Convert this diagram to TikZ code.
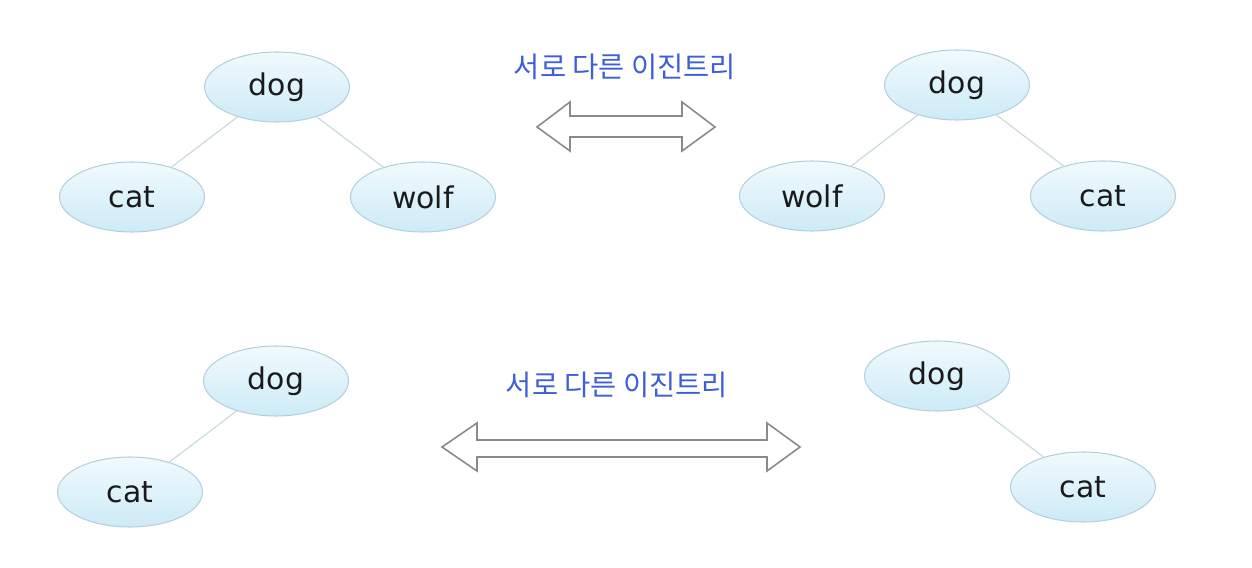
\documentclass[tikz,border=0pt]{standalone}
\usepackage{fontspec}
\setmainfont{DejaVu Sans}
\newfontfamily\krfont{Noto Sans CJK KR}
\usetikzlibrary{
  arrows.meta,
  calc,
  positioning,
  shapes.geometric
}
\definecolor{nodeTop}{HTML}{F0FAFE}
\definecolor{nodeBot}{HTML}{CDEBF6}
\definecolor{nodeRim}{HTML}{B5D0DC}
\definecolor{edgeGrey}{HTML}{C9DCDD}
\definecolor{labBlue}{HTML}{3F5FD8}
\definecolor{arrGrey}{HTML}{8A8A8A}
\definecolor{inkDark}{HTML}{1A1A1A}
\tikzset{
  word/.style={ellipse, draw=nodeRim, line width=0.6pt, top color=nodeTop,
    bottom color=nodeBot, minimum width=2.9cm, minimum height=1.4cm,
    inner sep=0pt, text=inkDark, font=\fontsize{17}{20}\selectfont},
  link/.style={draw=edgeGrey, line width=0.7pt},
  caption/.style={text=labBlue, font=\krfont\fontsize{16.2}{19}\selectfont},
  twoway/.style={draw=arrGrey, line width=0.9pt, fill=white, line join=miter}
}

\begin{document}
\begin{tikzpicture}[x=0.02cm, y=-0.02cm]
  \useasboundingbox (0,0) rectangle (1252,568);
  % upper pair
  \node[word] (ad) at (277,87)  {dog};
  \node[word] (ac) at (132,197) {cat};
  \node[word] (aw) at (423,197) {wolf};
  \node[word] (bd) at (957,85)  {dog};
  \node[word] (bw) at (812,196) {wolf};
  \node[word] (bc) at (1103,196) {cat};
  \draw[link] (ad) -- (ac);
  \draw[link] (ad) -- (aw);
  \draw[link] (bd) -- (bw);
  \draw[link] (bd) -- (bc);
  \node[caption] (t1) at (625,67) {서로 다른 이진트리};
  \draw[twoway] (537,127) -- (570,102) -- (570,116) -- (682,116) -- (682,102)
    -- (715,127) -- (682,151) -- (682,137) -- (570,137) -- (570,151) -- cycle;
  % lower pair
  \node[word] (cd) at (276,381) {dog};
  \node[word] (cc) at (130,492) {cat};
  \node[word] (dd) at (937,376) {dog};
  \node[word] (dc) at (1083,487) {cat};
  \draw[link] (cd) -- (cc);
  \draw[link] (dd) -- (dc);
  \node[caption] (t2) at (617,385) {서로 다른 이진트리};
  \draw[twoway] (442,447) -- (477,423) -- (477,440) -- (767,440) -- (767,423)
    -- (800,447) -- (767,471) -- (767,457) -- (477,457) -- (477,471) -- cycle;
\end{tikzpicture}
\end{document}
